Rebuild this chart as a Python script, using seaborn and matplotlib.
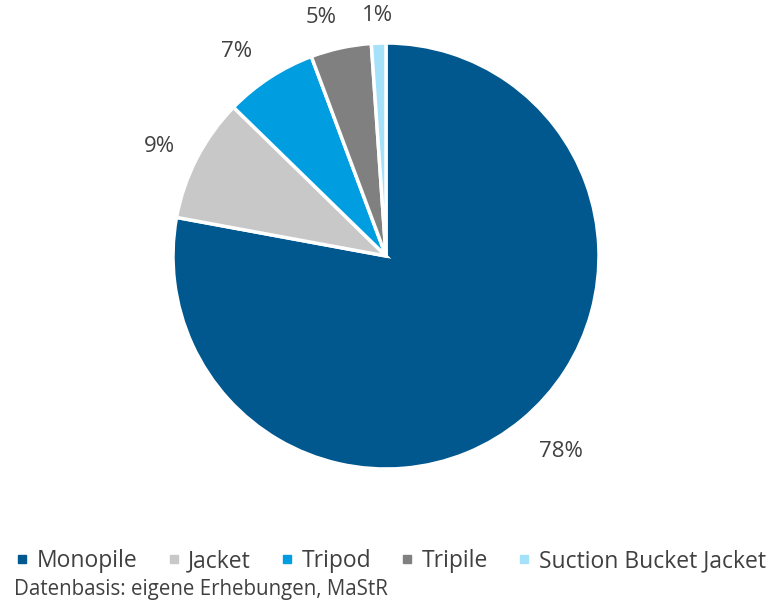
import matplotlib
matplotlib.use("Agg")
import numpy as np
import matplotlib.pyplot as plt
import seaborn as sns
from matplotlib.lines import Line2D

categories = ["Monopile", "Jacket", "Tripod", "Tripile", "Suction Bucket Jacket"]
shares = [77.9, 9.4, 7.0, 4.6, 1.1]
colors = ["#00588F", "#C8C8C8", "#009EE0", "#808080", "#A6E1FA"]
source_text = "Datenbasis: eigene Erhebungen, MaStR"

# label placement (style): radial distance and angular nudge per slice
label_dist = [1.23, 1.18, 1.19, 1.16, 1.13]
label_nudge = [2.0, 1.5, 3.0, 3.0, 0.0]

sns.set_theme(style="white")
plt.rcParams["font.family"] = ["Open Sans", "DejaVu Sans"]
text_color = "#404040"

fig = plt.figure(figsize=(7.84, 6.04), dpi=100)
cx, cy, r = 386, 256, 213
W, H = 784, 604
ax = fig.add_axes([(cx - r) / W, (H - cy - r) / H, 2 * r / W, 2 * r / H])

palette = sns.color_palette(colors)
wedges, _ = ax.pie(
    shares, colors=palette, startangle=90, counterclock=False,
    wedgeprops=dict(edgecolor="white", linewidth=2.5),
)
for w, v, d, n in zip(wedges, shares, label_dist, label_nudge):
    ang = np.deg2rad((w.theta1 + w.theta2) / 2 + n)
    ax.text(d * np.cos(ang), d * np.sin(ang), f"{v:.0f}%", ha="center",
            va="center", fontsize=16, color=text_color, clip_on=False)
ax.set_xlim(-1, 1)
ax.set_ylim(-1, 1)
ax.axis("off")

handles = [Line2D([0], [0], marker="s", linestyle="none", markersize=5.8,
                  markerfacecolor=c, markeredgecolor=c) for c in palette]
leg = fig.legend(handles, categories, loc="center left",
                 bbox_to_anchor=(17 / W, (H - 561) / H), ncol=5, frameon=False,
                 handlelength=0.45, handletextpad=0.4, columnspacing=1.36,
                 prop=dict(size=16.5), borderaxespad=0, borderpad=0)
for t in leg.get_texts():
    t.set_color(text_color)

fig.text(14 / W, (H - 589) / H, source_text, ha="left", va="center",
         fontsize=14.8, color=text_color)

fig.savefig("out.png", dpi=100)
